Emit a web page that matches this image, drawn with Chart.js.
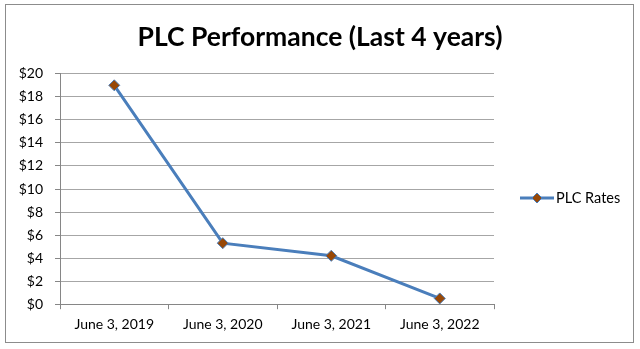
<!DOCTYPE html>
<html>
<head>
<meta charset="utf-8">
<script src="https://cdn.jsdelivr.net/npm/chart.js@4/dist/chart.umd.min.js"></script>
<style>
  html, body { margin: 0; padding: 0; background: #fff; }
  #wrap { position: relative; width: 640px; height: 349px; }
  #legend { position: absolute; left: 520px; top: 189px; font-family: Lato, sans-serif; font-size: 14.5px; color: #000; display: flex; align-items: center; }
</style>
</head>
<body>
<div id="wrap">
  <canvas id="chart" width="640" height="349"></canvas>
  <div id="legend"></div>
</div>
<script>
// данные графика
const categories = ['June 3, 2019', 'June 3, 2020', 'June 3, 2021', 'June 3, 2022'];
const plcRates = [19, 5.3, 4.2, 0.5];
const seriesName = 'PLC Rates';
const yTicks = [0, 2, 4, 6, 8, 10, 12, 14, 16, 18, 20];

const lineColor = '#4a7ebb';
const markerColor = '#984807';

// рамка вокруг всего графика + заголовок по центру всего холста
const outerBorder = {
  id: 'outerBorder',
  afterLayout(chart) {
    chart.titleBlock.left = 0;
    chart.titleBlock.right = chart.width;
  },
  afterDraw(chart) {
    const ctx = chart.ctx;
    ctx.save();
    ctx.strokeStyle = '#8c8c8c';
    ctx.lineWidth = 1;
    ctx.strokeRect(5.5, 4.5, 628, 338);
    ctx.restore();
  }
};

// легенда как в примере - своя, html
function createCustomLegend(legendId, name) {
  const legend = document.getElementById(legendId);
  legend.innerHTML = '';
  const mark = document.createElement('canvas');
  mark.width = 34;
  mark.height = 12;
  mark.style.marginRight = '2px';
  const c = mark.getContext('2d');
  c.strokeStyle = lineColor;
  c.lineWidth = 3;
  c.beginPath();
  c.moveTo(0, 6);
  c.lineTo(34, 6);
  c.stroke();
  c.fillStyle = markerColor;
  c.strokeStyle = lineColor;
  c.lineWidth = 1;
  c.beginPath();
  c.moveTo(17, 1);
  c.lineTo(22, 6);
  c.lineTo(17, 11);
  c.lineTo(12, 6);
  c.closePath();
  c.fill();
  c.stroke();
  const text = document.createElement('span');
  text.textContent = name;
  legend.appendChild(mark);
  legend.appendChild(text);
}

createCustomLegend('legend', seriesName);

new Chart(document.getElementById('chart').getContext('2d'), {
  type: 'line',
  data: {
    labels: categories,
    datasets: [{
      label: seriesName,
      data: plcRates,
      borderColor: lineColor,
      borderWidth: 3,
      tension: 0,
      pointStyle: 'rectRot',
      pointRadius: 5.5,
      pointBackgroundColor: markerColor,
      pointBorderColor: lineColor,
      pointBorderWidth: 1
    }]
  },
  options: {
    responsive: false,
    animation: false,
    layout: { padding: { left: 6, right: 146, top: 4, bottom: 9 } },
    plugins: {
      legend: { display: false },
      tooltip: { enabled: false },
      title: {
        display: true,
        text: 'PLC Performance (Last 4 years)',
        color: '#000',
        font: { family: 'Lato', size: 26.5, weight: 'bold' },
        padding: { top: 18, bottom: 20 }
      }
    },
    scales: {
      x: {
        offset: true,
        grid: { offset: true, drawOnChartArea: false, drawTicks: true, tickLength: 5, color: '#868686' },
        border: { color: '#868686' },
        ticks: { color: '#000', font: { family: 'Lato', size: 14 }, padding: 7, maxRotation: 0 }
      },
      y: {
        min: 0,
        max: 20,
        afterBuildTicks(scale) { scale.ticks = yTicks.map(v => ({ value: v })); },
        afterFit(scale) { scale.width = 54; },
        grid: { color: '#a6a6a6', tickLength: 5, tickColor: '#868686' },
        border: { color: '#868686' },
        ticks: { color: '#000', font: { family: 'Lato', size: 14 }, padding: 12, callback: v => '$' + v }
      }
    }
  },
  plugins: [outerBorder]
});
</script>
</body>
</html>
